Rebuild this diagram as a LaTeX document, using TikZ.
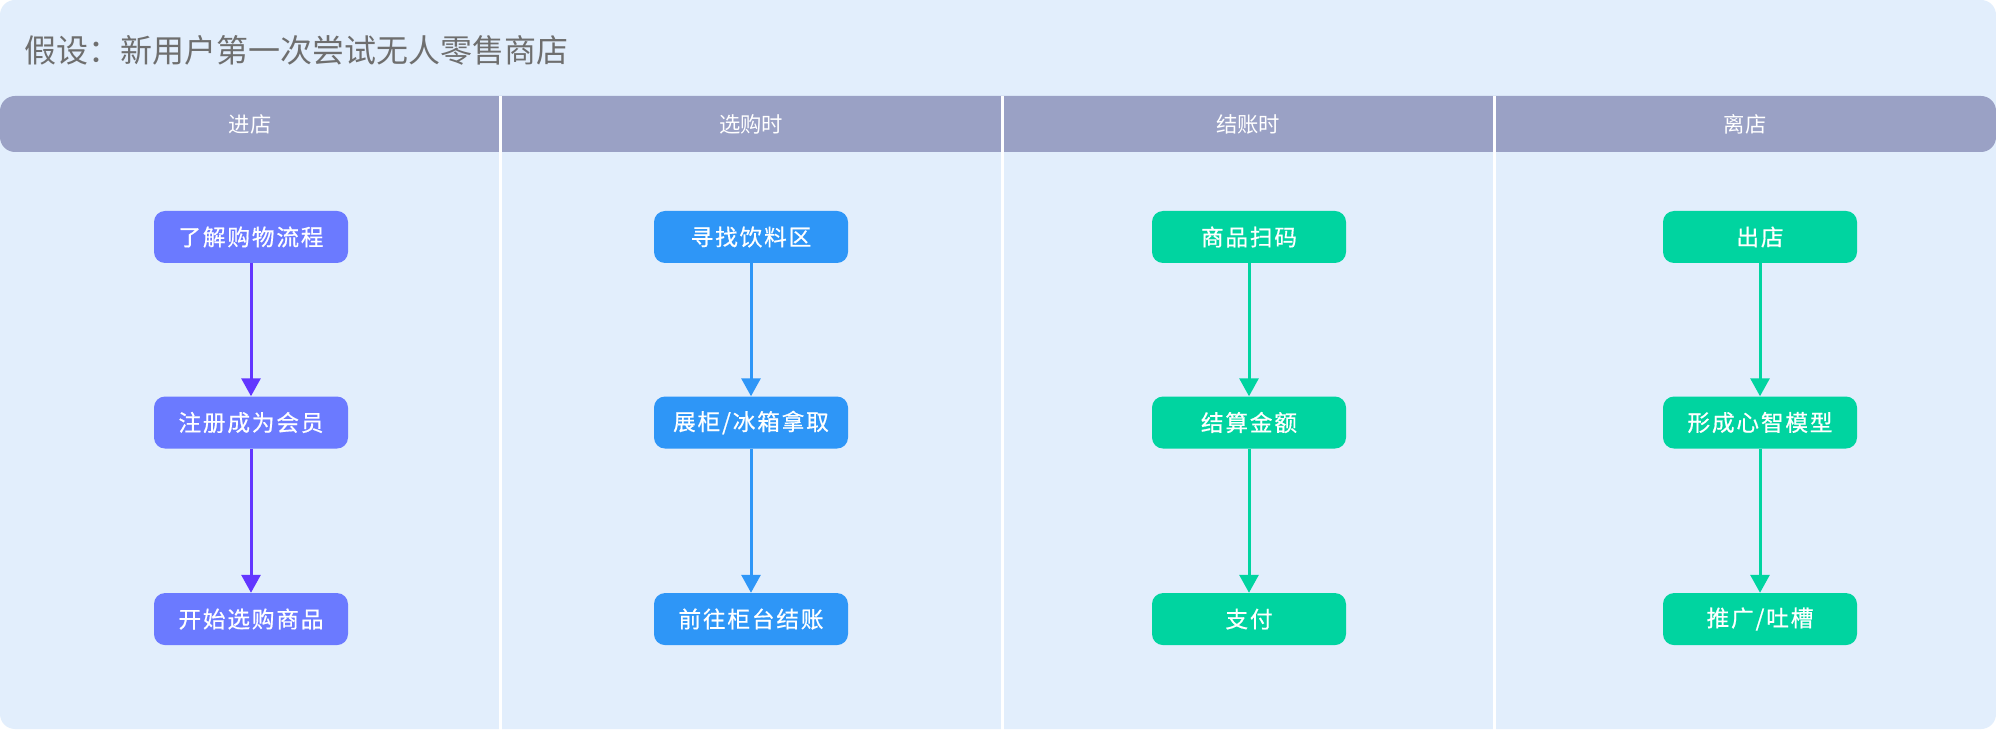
\documentclass[tikz,border=0pt]{standalone}
\usepackage{fontspec}
\setmainfont{Noto Sans CJK SC}
\newfontfamily\boxfont[LetterSpace=8,FakeBold=0.6]{Noto Sans CJK SC}
\usetikzlibrary{positioning,arrows.meta}
\definecolor{Panel}{HTML}{E2EEFC}
\definecolor{Band}{HTML}{9AA1C5}
\definecolor{Caption}{HTML}{6E6E6E}
\definecolor{Violet}{HTML}{6B7AFF}
\definecolor{Indigo}{HTML}{6236FF}
\definecolor{Sky}{HTML}{2E96F7}
\definecolor{Mint}{HTML}{00D4A0}

\begin{document}
\begin{tikzpicture}[x=0.75pt,y=-0.75pt,every node/.style={font=\fontsize{15pt}{18pt}\selectfont}]
\tikzstyle{stagebox}=[rounded corners=8.25pt,minimum width=145.5pt,minimum height=39pt,inner sep=0pt,text=white,font=\boxfont\fontsize{17pt}{20pt}\selectfont]
\tikzstyle{phase}=[text=white,inner sep=0pt,font=\fontsize{16pt}{19pt}\selectfont]
\tikzstyle{flow}=[-{Triangle[length=13.5pt,width=14.25pt]},line width=2.25pt]
\useasboundingbox (0,0) rectangle (1996,730);
\fill[white] (0,0) rectangle (1996,730);
\fill[Panel,rounded corners=11.25pt] (0,0) rectangle (1996,729);
\fill[Band,rounded corners=11.25pt] (0,96) rectangle (1996,152);
\foreach \x in {500,1002,1494} \draw[white,line width=2.25pt] (\x,96) -- (\x,730);
\node[anchor=west,inner sep=0pt,text=Caption,font=\fontsize{24pt}{28pt}\selectfont] (title) at (24,50) {假设：新用户第一次尝试无人零售商店};
% phases
\node[phase] (enter) at (250,124) {进店};
\node[phase] (pick) at (751,124) {选购时};
\node[phase] (check) at (1248,124) {结账时};
\node[phase] (leave) at (1745,124) {离店};
% steps
\node[stagebox,fill=Violet] (enter1) at (251,237) {了解购物流程};
\node[stagebox,fill=Violet,below=99.75pt of enter1] (enter2) {注册成为会员};
\node[stagebox,fill=Violet,below=108pt of enter2] (enter3) {开始选购商品};
\node[stagebox,fill=Sky] (pick1) at (751,237) {寻找饮料区};
\node[stagebox,fill=Sky,below=99.75pt of pick1] (pick2) {展柜/冰箱拿取};
\node[stagebox,fill=Sky,below=108pt of pick2] (pick3) {前往柜台结账};
\node[stagebox,fill=Mint] (check1) at (1249,237) {商品扫码};
\node[stagebox,fill=Mint,below=99.75pt of check1] (check2) {结算金额};
\node[stagebox,fill=Mint,below=108pt of check2] (check3) {支付};
\node[stagebox,fill=Mint] (leave1) at (1760,237) {出店};
\node[stagebox,fill=Mint,below=99.75pt of leave1] (leave2) {形成心智模型};
\node[stagebox,fill=Mint,below=108pt of leave2] (leave3) {推广/吐槽};
\draw[flow,Indigo] (enter1)--(enter2);
\draw[flow,Indigo] (enter2)--(enter3);
\draw[flow,Sky] (pick1)--(pick2);
\draw[flow,Sky] (pick2)--(pick3);
\draw[flow,Mint] (check1)--(check2);
\draw[flow,Mint] (check2)--(check3);
\draw[flow,Mint] (leave1)--(leave2);
\draw[flow,Mint] (leave2)--(leave3);
\end{tikzpicture}
\end{document}
